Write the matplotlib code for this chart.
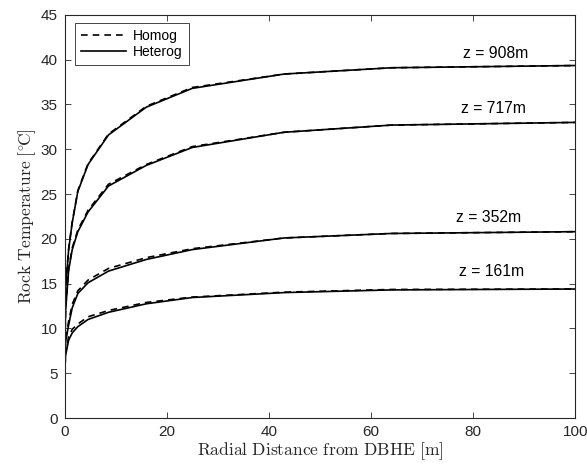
import numpy as np
import matplotlib
matplotlib.use("Agg")
import matplotlib.pyplot as plt

plt.rcParams['font.family'] = ['Liberation Sans', 'DejaVu Sans']
plt.rcParams['mathtext.fontset'] = 'cm'

# radial grid of the model [m]
r = [0, 0.2, 0.8, 1.5, 2.6, 4.6, 8.6, 16, 25, 43, 64, 100]

# Heterogeneous rock temperatures [degC]
het_908 = [7.0, 14.5, 18.8, 21.8, 25.3, 28.3, 31.6, 34.7, 36.8, 38.4, 39.1, 39.35]
het_717 = [6.0, 12.0, 16.5, 18.8, 20.8, 23.0, 25.9, 28.2, 30.2, 31.9, 32.7, 33.0]
het_352 = [5.0, 8.5, 10.4, 12.3, 13.9, 15.1, 16.4, 17.7, 18.8, 20.1, 20.6, 20.8]
het_161 = [4.5, 7.0, 8.7, 9.5, 10.2, 11.0, 11.8, 12.75, 13.45, 14.0, 14.3, 14.4]

# Homogeneous rock temperatures [degC]
hom_908 = [7.0, 14.6, 18.9, 21.9, 25.4, 28.4, 31.7, 34.8, 36.9, 38.4, 39.1, 39.35]
hom_717 = [6.0, 12.2, 16.7, 19.0, 21.0, 23.2, 26.1, 28.3, 30.3, 31.9, 32.7, 33.0]
hom_352 = [5.0, 8.8, 10.8, 12.7, 14.2, 15.4, 16.7, 17.9, 18.9, 20.1, 20.6, 20.8]
hom_161 = [4.5, 7.3, 9.1, 9.9, 10.5, 11.3, 12.0, 12.9, 13.5, 14.05, 14.35, 14.4]

labels = ['z = 908m', 'z = 717m', 'z = 352m', 'z = 161m']
label_x = [84.5, 84.0, 83.0, 83.7]
label_y = [40.7, 34.6, 22.4, 16.3]

het = [het_908, het_717, het_352, het_161]
hom = [hom_908, hom_717, hom_352, hom_161]

fig = plt.figure(figsize=(5.87, 4.66), dpi=100)
ax = fig.add_axes([0.11, 0.103, 0.87, 0.865])

for i in range(len(het)):
    l1, = ax.plot(r, hom[i], color='k', linestyle='--', linewidth=1.2, dashes=(4, 3))
    l2, = ax.plot(r, het[i], color='k', linestyle='-', linewidth=1.2)
    ax.text(label_x[i], label_y[i], labels[i], ha='center', va='center', fontsize=11.3, color='k')

ax.set_xlim(0, 100)
ax.set_ylim(0, 45)
ax.set_xticks(np.arange(0, 101, 20))
ax.set_yticks(np.arange(0, 46, 5))

gray = '#262626'
for s in ax.spines.values():
    s.set_color(gray)
    s.set_linewidth(0.8)
ax.tick_params(direction='in', top=True, right=True, length=4, width=0.6,
               colors=gray, labelsize=11, labelcolor=gray, pad=5)

ax.set_xlabel(r'$\mathrm{Radial\ Distance\ from\ DBHE\ [m]}$', fontsize=12.6, color=gray, labelpad=1)
ax.set_ylabel(r'$\mathrm{Rock\ Temperature\ [}^{\circ}\!\mathrm{C]}$', fontsize=12.6, color=gray, labelpad=2)

leg = ax.legend([l1, l2], ['Homog', 'Heterog'], loc='upper left',
                bbox_to_anchor=(0.0208, 0.981), borderaxespad=0, fontsize=10,
                frameon=True, fancybox=False, edgecolor=gray, framealpha=1,
                handlelength=3.2, borderpad=0.45, labelspacing=0.15,
                handletextpad=0.5)
leg.get_frame().set_linewidth(0.6)

fig.savefig('out.png', dpi=100)
